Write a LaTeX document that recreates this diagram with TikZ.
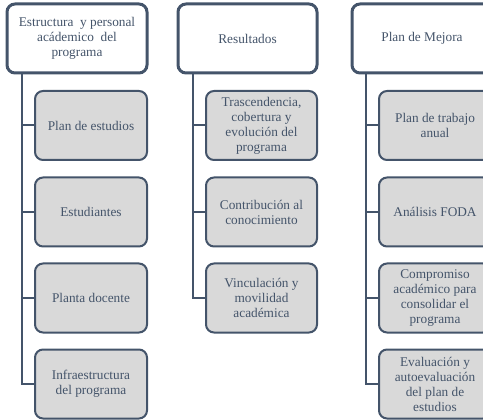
\documentclass[tikz,border=0pt]{standalone}
\usepackage{fontspec}
\setmainfont{Liberation Serif}
\usetikzlibrary{calc}
\definecolor{navy}{HTML}{44546A}
\definecolor{boxgray}{HTML}{D9D9D9}
\tikzset{
  headbox/.style={draw=navy, line width=3pt, rounded corners=8pt, fill=white,
    minimum width=140pt, minimum height=69pt, align=center, text=navy,
    font=\fontsize{13.3}{15}\selectfont, inner sep=1pt},
  itembox/.style={draw=navy, line width=2pt, rounded corners=8pt, fill=boxgray,
    minimum width=112pt, minimum height=69pt, align=center, text=navy,
    font=\fontsize{13.3}{15}\selectfont, inner sep=1pt},
  link/.style={draw=navy, line width=2pt}
}
\begin{document}
\begin{tikzpicture}[x=1pt,y=-1pt]
\clip (0,0) rectangle (483,420);
\useasboundingbox (0,0) rectangle (483,420);
% column heads
\node[headbox] (p1) at (77,38.5) {Estructura \ y personal\\acádemico \ del\\programa};
\node[headbox, minimum width=139pt] (p2) at (247.5,38.5) {Resultados};
\node[headbox] (p3) at (422,38.5) {Plan de Mejora};
% first column
\node[itembox] (a1) at (91,125.5) {Plan de estudios};
\node[itembox] (a2) at (91,212) {Estudiantes};
\node[itembox] (a3) at (91,298) {Planta docente};
\node[itembox] (a4) at (91,384) {Infraestructura\\del programa};
% second column
\node[itembox, minimum width=111pt] (b1) at (261.5,125.5) {Trascendencia,\\cobertura y\\evolución del\\programa};
\node[itembox, minimum width=111pt] (b2) at (261.5,212) {Contribución al\\conocimiento};
\node[itembox, minimum width=111pt] (b3) at (261.5,298) {Vinculación y\\movilidad\\académica};
% third column
\node[itembox] (c1) at (435,125.5) {Plan de trabajo\\anual};
\node[itembox] (c2) at (435,212) {Análisis FODA};
\node[itembox] (c3) at (435,298) {Compromiso\\académico para\\consolidar el\\programa};
\node[itembox] (c4) at (435,384) {Evaluación y\\autoevaluación\\del plan de\\estudios};
% trunks and branches
\coordinate (t1) at ($(p1.south west)+(16,0)$);
\coordinate (t2) at ($(p2.south west)+(16,0)$);
\coordinate (t3) at ($(p3.south west)+(15,0)$);
\foreach \n in {a1,a2,a3,a4} \draw[link] (t1) |- (\n.west);
\foreach \n in {b1,b2,b3} \draw[link] (t2) |- (\n.west);
\foreach \n in {c1,c2,c3,c4} \draw[link] (t3) |- (\n.west);
\end{tikzpicture}
\end{document}
